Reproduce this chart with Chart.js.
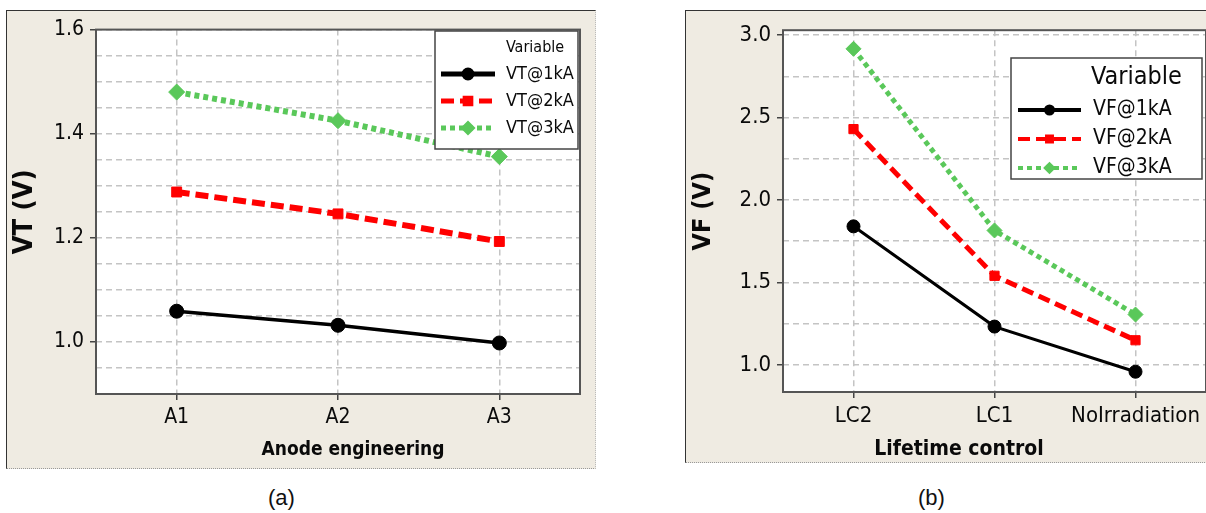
<!DOCTYPE html>
<html>
<head>
<meta charset="utf-8">
<script src="https://cdn.jsdelivr.net/npm/chart.js@4.4.0/dist/chart.umd.min.js"></script>
<style>
  body { margin: 0; background: #fff; width: 1206px; height: 513px; overflow: hidden; position: relative; }
  .panel { position: absolute; background: #efebe2; border-top: 1px solid #333; border-left: 1px solid #333;
           border-bottom: 1px dotted #999; border-right: 1px dotted #bbb; box-sizing: border-box; }
  .panel canvas { position: absolute; left: 0; top: 0; }
  #pa { left: 6px; top: 10px; width: 590px; height: 459px; }
  #pb { left: 685px; top: 10px; width: 530px; height: 453px; }
  .cap { position: absolute; top: 485px; font: 22px Arial, "Liberation Sans", sans-serif; color: #111; }
</style>
</head>
<body>
<div class="panel" id="pa"><canvas id="chart-a" width="590" height="459"></canvas></div>
<div class="panel" id="pb"><canvas id="chart-b" width="530" height="453"></canvas></div>
<div class="cap" style="left:268px">(a)</div>
<div class="cap" style="left:918px">(b)</div>

<script>
// chart (a): anode engineering
var anodeLabels = ['A1', 'A2', 'A3'];
var vt1k = [1.059, 1.032, 0.998];
var vt2k = [1.288, 1.246, 1.193];
var vt3k = [1.480, 1.425, 1.356];
var vtTickLabels = ['1.0', '1.2', '1.4', '1.6'];

// chart (b): lifetime control
var lifetimeLabels = ['LC2', 'LC1', 'NoIrradiation'];
var vf1k = [1.840, 1.232, 0.958];
var vf2k = [2.430, 1.540, 1.149];
var vf3k = [2.917, 1.815, 1.305];
var vfTickLabels = ['1.0', '1.5', '2.0', '2.5', '3.0'];

var FONT = '"DejaVu Sans Condensed", "DejaVu Sans", sans-serif';
var INK = '#0a0a0a';

// white plot area with a grey frame
var plotFrame = {
  id: 'plotFrame',
  beforeDraw: function(chart) {
    var a = chart.chartArea, ctx = chart.ctx;
    ctx.save();
    ctx.fillStyle = '#fff';
    ctx.fillRect(a.left, a.top, a.right - a.left, a.bottom - a.top);
    ctx.restore();
  },
  beforeDatasetsDraw: function(chart) {
    var a = chart.chartArea, ctx = chart.ctx;
    ctx.save();
    ctx.strokeStyle = '#555';
    ctx.lineWidth = 2;
    ctx.strokeRect(a.left, a.top, a.right - a.left, a.bottom - a.top);
    ctx.restore();
  }
};

// x axis caption, minitab puts it a bit off the plot centre
var axisCaption = {
  id: 'axisCaption',
  afterDraw: function(chart, args, o) {
    var ctx = chart.ctx;
    ctx.save();
    ctx.fillStyle = INK;
    ctx.font = o.font;
    ctx.textAlign = 'center';
    ctx.textBaseline = 'middle';
    ctx.fillText(o.text, o.x, o.y);
    ctx.restore();
  }
};

// boxed legend inside the plot, like the original
var boxLegend = {
  id: 'boxLegend',
  afterDatasetsDraw: function(chart, args, o) {
    var ctx = chart.ctx;
    ctx.save();
    ctx.fillStyle = '#fff';
    ctx.fillRect(o.x, o.y, o.w, o.h);
    ctx.strokeStyle = '#444';
    ctx.lineWidth = 1.5;
    ctx.strokeRect(o.x, o.y, o.w, o.h);
    ctx.fillStyle = INK;
    ctx.textBaseline = 'middle';
    ctx.font = o.titleFont;
    ctx.fillText('Variable', o.titleX, o.titleY);
    chart.data.datasets.forEach(function(ds, i) {
      var y = o.rowY + i * o.rowStep;
      ctx.strokeStyle = ds.borderColor;
      ctx.lineWidth = o.lineW;
      ctx.setLineDash(ds.borderDash || []);
      ctx.beginPath();
      ctx.moveTo(o.lineX0, y);
      ctx.lineTo(o.lineX1, y);
      ctx.stroke();
      ctx.setLineDash([]);
      ctx.fillStyle = ds.borderColor;
      Chart.helpers.drawPoint(ctx, { pointStyle: ds.pointStyle, radius: o.markR, rotation: 0, borderWidth: 1 },
        (o.lineX0 + o.lineX1) / 2, y);
      ctx.fillStyle = INK;
      ctx.font = o.font;
      ctx.fillText(ds.label, o.textX, y);
    });
    ctx.restore();
  }
};

function series(label, data, color, width, dash, style, r) {
  return {
    label: label, data: data, borderColor: color, backgroundColor: color,
    borderWidth: width, borderDash: dash, pointStyle: style, pointRadius: r,
    pointBorderWidth: 1, tension: 0
  };
}

function yScale(min, max, step, labels, title, tickSize, titleSize, axisW) {
  return {
    min: min, max: max,
    afterBuildTicks: function(scale) {
      var t = [];
      for (var v = Math.ceil(min / step) * step; v <= max + 1e-9; v += step) {
        t.push({ value: Math.round(v * 1000) / 1000 });
      }
      scale.ticks = t;
    },
    afterFit: function(scale) { scale.width = axisW; },
    ticks: {
      color: INK, font: { family: FONT, size: tickSize }, padding: 6, autoSkip: false,
      callback: function(v) {
        for (var i = 0; i < labels.length; i++) {
          if (Math.abs(parseFloat(labels[i]) - v) < 1e-6) return labels[i];
        }
        return '';
      }
    },
    grid: {
      color: '#c4c4c4', lineWidth: 1.5, tickLength: 6, tickWidth: 1.5, tickBorderDash: [],
      tickColor: function(c) { return c.tick && c.tick.label ? '#444' : 'rgba(0,0,0,0)'; }
    },
    border: { display: false, dash: [6, 4] },
    title: { display: true, text: title, color: INK, font: { family: FONT, size: titleSize, weight: 'bold' },
             padding: { top: 2, bottom: 0 } }
  };
}

function xScale(tickSize, axisH) {
  return {
    offset: true,
    afterFit: function(scale) { scale.height = axisH; },
    ticks: { color: INK, font: { family: FONT, size: tickSize }, padding: 5, maxRotation: 0, autoSkip: false },
    grid: { color: '#c4c4c4', lineWidth: 1.5, tickLength: 6, tickWidth: 1.5, tickColor: '#444', tickBorderDash: [] },
    border: { display: false, dash: [6, 4] }
  };
}

function initChartA() {
  var ctx = document.getElementById('chart-a').getContext('2d');
  new Chart(ctx, {
    type: 'line',
    data: {
      labels: anodeLabels,
      datasets: [
        series('VT@1kA', vt1k, '#000000', 3.5, [], 'circle', 7),
        series('VT@2kA', vt2k, '#ff0000', 6, [13, 6], 'rect', 7),
        series('VT@3kA', vt3k, '#5ac85a', 6, [5, 4], 'rectRot', 8)
      ]
    },
    options: {
      responsive: false, animation: false,
      layout: { padding: { top: 17, right: 17, left: 0, bottom: 0 } },
      plugins: {
        legend: { display: false }, tooltip: { enabled: false },
        axisCaption: { text: 'Anode engineering', x: 346, y: 439, font: 'bold 19px ' + FONT },
        boxLegend: { x: 428, y: 20, w: 143, h: 118, titleFont: '16px ' + FONT, font: '18px ' + FONT,
                     titleX: 499, titleY: 37, rowY: 63, rowStep: 27, lineX0: 434, lineX1: 488,
                     textX: 499, lineW: 5, markR: 4 }
      },
      scales: {
        x: xScale(21, 76),
        y: yScale(0.9, 1.6, 0.05, vtTickLabels, 'VT (V)', 21, 27, 89)
      }
    },
    plugins: [plotFrame, boxLegend, axisCaption]
  });
}

function initChartB() {
  var ctx = document.getElementById('chart-b').getContext('2d');
  new Chart(ctx, {
    type: 'line',
    data: {
      labels: lifetimeLabels,
      datasets: [
        series('VF@1kA', vf1k, '#000000', 3, [], 'circle', 6.5),
        series('VF@2kA', vf2k, '#ff0000', 5, [12, 6], 'rect', 6.5),
        series('VF@3kA', vf3k, '#5ac85a', 5, [5, 4], 'rectRot', 7.5)
      ]
    },
    options: {
      responsive: false, animation: false,
      layout: { padding: { top: 12, right: 10, left: 0, bottom: 0 } },
      plugins: {
        legend: { display: false }, tooltip: { enabled: false },
        axisCaption: { text: 'Lifetime control', x: 273, y: 439, font: 'bold 21px ' + FONT },
        boxLegend: { x: 325, y: 47, w: 191, h: 121, titleFont: '25px ' + FONT, font: '21px ' + FONT,
                     titleX: 405, titleY: 66, rowY: 99, rowStep: 29, lineX0: 332, lineX1: 395,
                     textX: 407, lineW: 4, markR: 3.5 }
      },
      scales: {
        x: xScale(22, 72),
        y: yScale(0.835, 3.03, 0.25, vfTickLabels, 'VF (V)', 22, 25, 97)
      }
    },
    plugins: [plotFrame, boxLegend, axisCaption]
  });
}

initChartA();
initChartB();
</script>
</body>
</html>
